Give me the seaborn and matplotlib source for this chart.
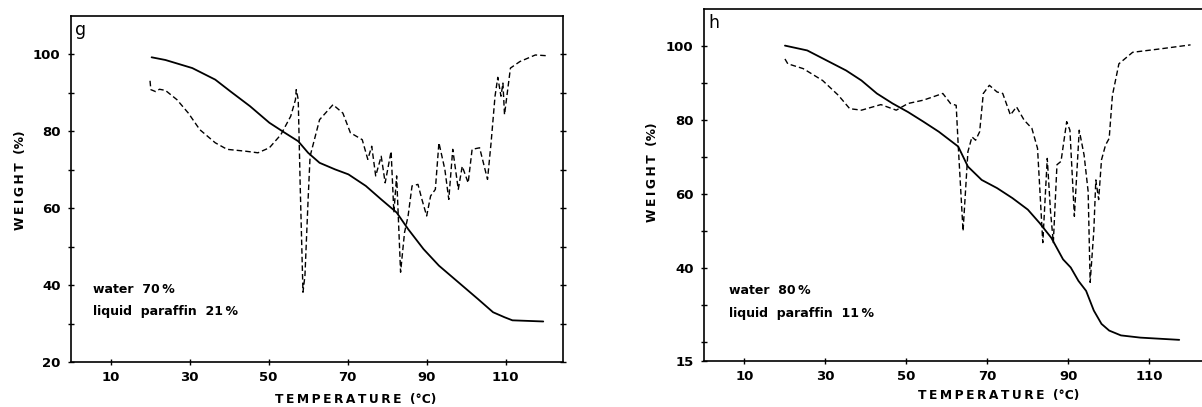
import numpy as np
import pandas as pd
import matplotlib
matplotlib.use("Agg")
import matplotlib.pyplot as plt
import seaborn as sns

# ---------------- data ----------------
# Panel g : water 70 %, liquid paraffin 21 %
g_tg_x = [20.4, 23.9, 30.7, 36.5, 40.4, 45.3, 50.2, 54.1, 57.5, 60.0, 62.9, 66.8,
          70.2, 74.6, 78.5, 82.4, 85.3, 89.2, 93.1, 98.0, 102.9, 106.8, 109.7, 111.7, 119.5]
g_tg_y = [99.2, 98.5, 96.4, 93.4, 90.3, 86.5, 82.2, 79.6, 77.4, 74.4, 71.8, 70.1,
          68.8, 65.8, 62.3, 58.9, 54.6, 49.4, 45.1, 40.8, 36.5, 33.0, 31.7, 30.9, 30.6]

g_dtg_x = [20.0, 20.2, 21.4, 22.4, 23.9, 26.8, 29.7, 32.6, 36.5, 39.5, 44.3, 47.3,
           50.2, 53.1, 55.6, 56.8, 57.0, 57.5, 58.0, 58.7, 59.2, 60.0, 60.5, 62.9,
           66.3, 68.8, 70.7, 73.7, 75.1, 76.1, 77.1, 78.5, 79.5, 81.0, 81.7, 82.4,
           83.4, 84.4, 85.3, 86.3, 87.8, 88.8, 90.0, 91.0, 92.2, 93.1, 94.6, 95.6,
           96.6, 98.0, 99.0, 100.5, 101.5, 103.4, 105.4, 106.3, 107.3, 108.0, 108.8,
           109.3, 109.7, 111.2, 113.6, 117.5, 120.5]
g_dtg_y = [93.1, 90.8, 90.3, 90.9, 90.6, 88.2, 84.7, 80.4, 77.0, 75.3, 74.8, 74.4,
           75.7, 79.1, 83.9, 88.2, 90.8, 88.2, 65.8, 38.2, 42.5, 62.3, 73.5, 83.0,
           86.9, 84.7, 79.6, 77.8, 72.7, 76.1, 68.4, 73.5, 66.6, 74.8, 58.9, 68.4,
           43.4, 53.7, 58.0, 65.8, 66.2, 62.3, 58.0, 63.2, 64.9, 77.0, 70.1, 62.3,
           75.3, 64.9, 70.9, 66.6, 75.3, 75.7, 67.5, 77.0, 89.1, 94.0, 89.1,
           92.5, 84.3, 96.4, 98.1, 99.8, 99.6]

# Panel h : water 80 %, liquid paraffin 11 %
h_tg_x = [20.0, 25.5, 30.3, 35.1, 38.9, 42.7, 46.6, 50.4, 54.2, 58.0, 62.8, 65.2,
          68.6, 72.4, 76.2, 80.0, 82.9, 85.8, 88.7, 90.6, 92.5, 94.4, 96.3, 98.2,
          100.1, 103.0, 107.8, 112.6, 117.4]
h_tg_y = [100.0, 98.7, 96.0, 93.3, 90.6, 87.1, 84.4, 82.1, 79.5, 76.8, 72.8, 67.4,
          63.8, 61.6, 58.9, 55.8, 52.2, 48.2, 42.4, 40.2, 36.6, 33.9, 28.6, 25.0,
          23.2, 21.9, 21.3, 21.0, 20.7]

h_dtg_x = [20.0, 20.7, 24.5, 29.3, 33.2, 36.0, 38.9, 43.7, 47.5, 50.4, 54.2, 59.0,
           60.9, 62.3, 62.8, 64.0, 65.2, 66.2, 67.1, 68.1, 69.0, 70.5, 72.4, 73.8,
           75.7, 77.2, 79.1, 81.0, 82.4, 83.7, 84.8, 85.6, 86.3, 87.2, 88.2, 89.6,
           90.4, 91.5, 92.7, 93.9, 94.9, 95.4, 96.3, 96.8, 97.5, 98.2, 99.2, 100.1,
           100.9, 102.5, 105.9, 112.6, 120.2]
h_dtg_y = [96.4, 95.1, 93.8, 90.6, 86.6, 83.0, 82.6, 84.1, 82.6, 84.4, 85.3, 87.1,
           84.4, 83.9, 73.2, 50.0, 71.4, 75.4, 74.5, 76.8, 87.1, 89.3, 87.5, 87.1,
           81.3, 83.5, 79.9, 77.7, 72.3, 46.9, 69.6, 55.4, 46.9, 67.9, 68.8, 79.5,
           77.2, 54.0, 77.2, 70.5, 60.7, 36.2, 50.0, 63.8, 58.5, 69.2, 73.2, 75.0,
           86.6, 95.1, 98.2, 99.1, 100.2]

x_ticks = [10, 30, 50, 70, 90, 110]
g_yticklabels = [20, 40, 60, 80, 100]
h_yticklabels = [15, 40, 60, 80, 100]
g_notes = ["water 70%", "liquid paraffin 21%"]
h_notes = ["water 80%", "liquid paraffin 11%"]

# ---------------- styling ----------------
sns.set_style("ticks")
plt.rcParams['font.family'] = ['DejaVu Sans']
plt.rcParams['text.color'] = 'black'
plt.rcParams['axes.labelcolor'] = 'black'
plt.rcParams['xtick.color'] = 'black'
plt.rcParams['ytick.color'] = 'black'


def spaced(s, sp="\u2009"):
    return sp.join(list(s))


fig = plt.figure(figsize=(12.02, 4.07), dpi=100)
axg = fig.add_axes([71 / 1202, (407 - 362.3) / 407, (563 - 71) / 1202, (362.3 - 15.7) / 407])
axh = fig.add_axes([704 / 1202, (407 - 361) / 407, (1202 - 704) / 1202 + 0.01, (361 - 8.5) / 407])


def draw(ax, tgx, tgy, dx, dy, ylim, ylabels, yticks, notes, note_xy, letter, xlim,
         ylab_pos, xlab_pos, right_spine):
    tg = pd.DataFrame({"T": tgx, "W": tgy})
    dtg = pd.DataFrame({"T": dx, "W": dy})
    sns.lineplot(data=tg, x="T", y="W", ax=ax, color="black", lw=1.3,
                 estimator=None, sort=False)
    sns.lineplot(data=dtg, x="T", y="W", ax=ax, color="black", lw=1.0,
                 estimator=None, sort=False)
    ax.lines[-1].set_dashes([4, 2.2])
    ax.set_xlim(*xlim)
    ax.set_ylim(*ylim)
    ax.set_xticks(x_ticks)
    ax.set_xticklabels([str(v) for v in x_ticks])
    ax.set_yticks(yticks)
    ax.set_yticklabels([str(v) if v in ylabels else "" for v in yticks])
    ax.tick_params(axis="both", direction="inout", length=5, width=1.0,
                   labelsize=9.5, colors="black")
    ax.tick_params(axis="x", pad=4)
    ax.tick_params(axis="y", pad=5)
    for lab in ax.get_xticklabels() + ax.get_yticklabels():
        lab.set_fontweight("bold")
    for sp in ax.spines.values():
        sp.set_linewidth(1.2)
        sp.set_color("black")
    ax.spines["top"].set_visible(True)
    if right_spine:
        ax.spines["right"].set_visible(True)
        ax.tick_params(axis="y", right=True, labelright=False)
    else:
        ax.spines["right"].set_visible(False)
    ax.set_xlabel(spaced("TEMPERATURE") + "  (°C)", fontsize=8.8, fontweight="bold",
                  color="black")
    ax.set_ylabel(spaced("WEIGHT") + "  (%)", fontsize=8.8, fontweight="bold",
                  color="black")
    ax.xaxis.set_label_coords(*xlab_pos)
    ax.xaxis.label.set_va("center")
    ax.yaxis.set_label_coords(*ylab_pos)
    ax.yaxis.label.set_va("center")
    ax.text(0.008, 0.985, letter, transform=ax.transAxes, ha="left", va="top",
            fontsize=12.5, color="black")
    for (tx, ty), s in zip(note_xy, notes):
        ax.text(tx, ty, s.replace(" ", "  ").replace("%", "\u2009%"),
                fontsize=9, fontweight="bold", ha="left", va="center", color="black")


draw(axg, g_tg_x, g_tg_y, g_dtg_x, g_dtg_y, (20, 110), g_yticklabels,
     list(range(20, 101, 10)), g_notes, [(5.6, 39.0), (5.6, 33.3)], "g",
     (0, 124.5), (-0.102, 0.526), (0.579, -0.106), True)
draw(axh, h_tg_x, h_tg_y, h_dtg_x, h_dtg_y, (15, 110), h_yticklabels,
     [15] + list(range(20, 101, 10)), h_notes, [(6.1, 33.9), (6.1, 27.9)], "h",
     (0, 126.0), (-0.100, 0.536), (0.602 * 498 / 518.3, -0.099), False)

fig.savefig("out.png", dpi=100, facecolor="white")
